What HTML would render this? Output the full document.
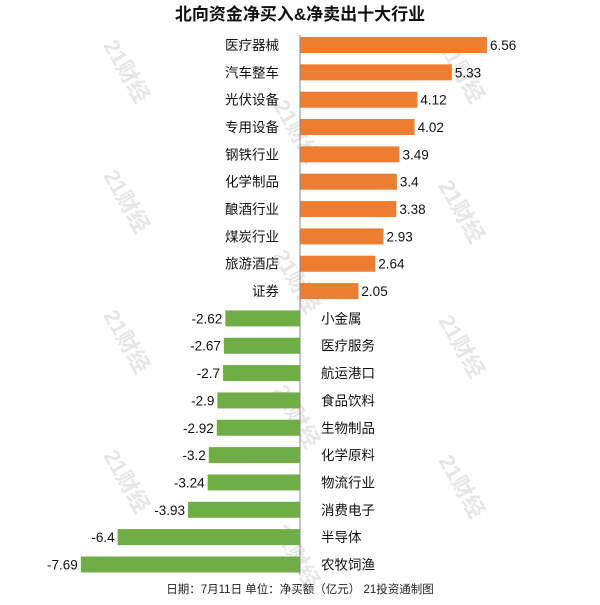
<!DOCTYPE html>
<html><head><meta charset="utf-8"><style>
body{margin:0;background:#fff;}
svg text{font-family:"Liberation Sans","Noto Sans CJK SC",sans-serif;}
</style></head><body>
<svg width="600" height="600" viewBox="0 0 600 600" xmlns="http://www.w3.org/2000/svg">
<g id="wm" fill="#e6e6e6" font-size="22" font-weight="bold"></g>
<text x="300" y="20" text-anchor="middle" font-size="17" font-weight="bold" fill="#111">北向资金净买入&amp;净卖出十大行业</text>
<g id="bars"></g>
<line x1="300" y1="35" x2="300" y2="574" stroke="#888" stroke-width="1"/>
<text x="300" y="593" text-anchor="middle" font-size="11.5" fill="#222">日期：7月11日 单位：净买额（亿元） 21投资通制图</text>
</svg>
<script>
const categories=["医疗器械","汽车整车","光伏设备","专用设备","钢铁行业","化学制品","酿酒行业","煤炭行业","旅游酒店","证券","小金属","医疗服务","航运港口","食品饮料","生物制品","化学原料","物流行业","消费电子","半导体","农牧饲渔"];
const values=[6.56,5.33,4.12,4.02,3.49,3.4,3.38,2.93,2.64,2.05,-2.62,-2.67,-2.7,-2.9,-2.92,-3.2,-3.24,-3.93,-6.4,-7.69];
const labels=["6.56","5.33","4.12","4.02","3.49","3.4","3.38","2.93","2.64","2.05","-2.62","-2.67","-2.7","-2.9","-2.92","-3.2","-3.24","-3.93","-6.4","-7.69"];
const NS="http://www.w3.org/2000/svg";
const x0=300,scale=28.5,y0=45,step=27.34,bh=16;
const xs=v=>x0+v*scale, ys=i=>y0+i*step;
const g=document.getElementById('bars');
function mk(t,a){const e=document.createElementNS(NS,t);for(const k in a)e.setAttribute(k,a[k]);return e;}
categories.forEach((c,i)=>{
 const v=values[i],cy=ys(i),x=xs(v);
 const r=mk('rect',{x:Math.min(x,x0),y:cy-bh/2,width:Math.abs(x-x0),height:bh,fill:v>=0?'#ED7D31':'#70AD47'});
 
 
 g.appendChild(r);
 const vl=mk('text',{x:v>=0?x+3:x-3,y:cy+5,'text-anchor':v>=0?'start':'end','font-size':13.5,fill:'#111'});
 vl.textContent=labels[i];
 
 
 g.appendChild(vl);
 const cl=mk('text',{x:v>=0?x0-21:x0+21,y:cy+5,'text-anchor':v>=0?'end':'start','font-size':13.5,fill:'#111'});
 cl.textContent=c;
 
 
 g.appendChild(cl);
});
const wm=document.getElementById('wm');
[[120,75],[455,75],[290,135],[120,205],[455,215],[290,285],[120,345],[455,350],[290,420],[120,485],[455,490],[290,560]].forEach((p,i)=>{
 const t=mk('text',{x:p[0],y:p[1],'text-anchor':'middle',transform:`rotate(60 ${p[0]} ${p[1]})`});
 t.textContent='21财经';
 
 
 wm.appendChild(t);
});
</script>
</body></html>
